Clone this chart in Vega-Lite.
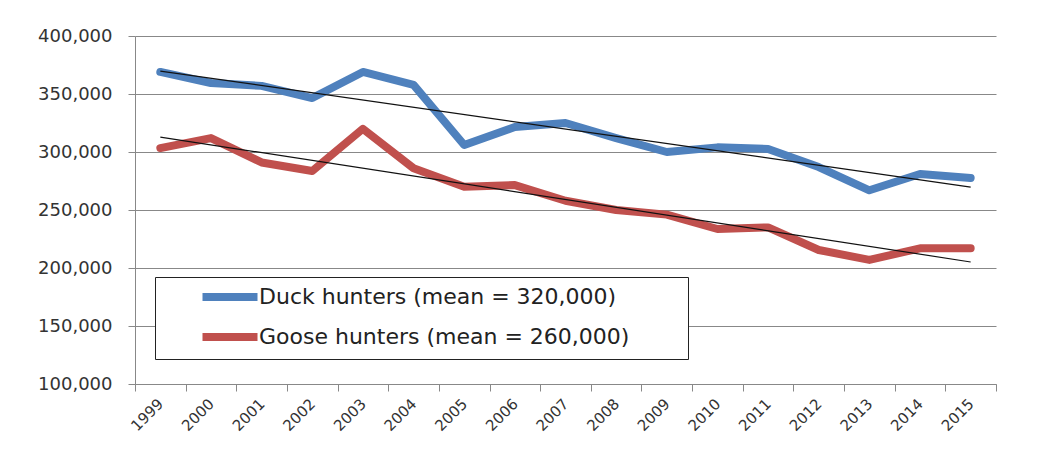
{
  "$schema": "https://vega.github.io/schema/vega-lite/v6.json",
  "autosize": {"type": "none"},
  "width": 861,
  "height": 348,
  "padding": {"left": 135, "top": 36, "right": 46, "bottom": 70},
  "background": "white",
  "config": {
    "font": "DejaVu Sans",
    "view": {"stroke": null},
    "axis": {"labelColor": "#333333", "labelFont": "DejaVu Sans"}
  },
  "datasets": {
    "hunters": [
      {"year": "1999", "series": "Duck hunters (mean = 320,000)", "hunters": 369000},
      {"year": "2000", "series": "Duck hunters (mean = 320,000)", "hunters": 359500},
      {"year": "2001", "series": "Duck hunters (mean = 320,000)", "hunters": 357000},
      {"year": "2002", "series": "Duck hunters (mean = 320,000)", "hunters": 346500},
      {"year": "2003", "series": "Duck hunters (mean = 320,000)", "hunters": 369000},
      {"year": "2004", "series": "Duck hunters (mean = 320,000)", "hunters": 357800},
      {"year": "2005", "series": "Duck hunters (mean = 320,000)", "hunters": 306000},
      {"year": "2006", "series": "Duck hunters (mean = 320,000)", "hunters": 321600},
      {"year": "2007", "series": "Duck hunters (mean = 320,000)", "hunters": 325000},
      {"year": "2008", "series": "Duck hunters (mean = 320,000)", "hunters": 312000},
      {"year": "2009", "series": "Duck hunters (mean = 320,000)", "hunters": 300000},
      {"year": "2010", "series": "Duck hunters (mean = 320,000)", "hunters": 304000},
      {"year": "2011", "series": "Duck hunters (mean = 320,000)", "hunters": 302600},
      {"year": "2012", "series": "Duck hunters (mean = 320,000)", "hunters": 287000},
      {"year": "2013", "series": "Duck hunters (mean = 320,000)", "hunters": 267000},
      {"year": "2014", "series": "Duck hunters (mean = 320,000)", "hunters": 281000},
      {"year": "2015", "series": "Duck hunters (mean = 320,000)", "hunters": 277600},
      {"year": "1999", "series": "Goose hunters (mean = 260,000)", "hunters": 303400},
      {"year": "2000", "series": "Goose hunters (mean = 260,000)", "hunters": 312000},
      {"year": "2001", "series": "Goose hunters (mean = 260,000)", "hunters": 291000},
      {"year": "2002", "series": "Goose hunters (mean = 260,000)", "hunters": 283600},
      {"year": "2003", "series": "Goose hunters (mean = 260,000)", "hunters": 320000},
      {"year": "2004", "series": "Goose hunters (mean = 260,000)", "hunters": 286000},
      {"year": "2005", "series": "Goose hunters (mean = 260,000)", "hunters": 270000},
      {"year": "2006", "series": "Goose hunters (mean = 260,000)", "hunters": 271500},
      {"year": "2007", "series": "Goose hunters (mean = 260,000)", "hunters": 258000},
      {"year": "2008", "series": "Goose hunters (mean = 260,000)", "hunters": 250000},
      {"year": "2009", "series": "Goose hunters (mean = 260,000)", "hunters": 246000},
      {"year": "2010", "series": "Goose hunters (mean = 260,000)", "hunters": 233600},
      {"year": "2011", "series": "Goose hunters (mean = 260,000)", "hunters": 235000},
      {"year": "2012", "series": "Goose hunters (mean = 260,000)", "hunters": 215500},
      {"year": "2013", "series": "Goose hunters (mean = 260,000)", "hunters": 207000},
      {"year": "2014", "series": "Goose hunters (mean = 260,000)", "hunters": 217000},
      {"year": "2015", "series": "Goose hunters (mean = 260,000)", "hunters": 217000}
    ],
    "trends": [
      {"year": "1999", "trend": "Duck trend", "hunters": 369800},
      {"year": "2015", "trend": "Duck trend", "hunters": 269800},
      {"year": "1999", "trend": "Goose trend", "hunters": 312900},
      {"year": "2015", "trend": "Goose trend", "hunters": 205200}
    ]
  },
  "encoding": {
    "x": {
      "field": "year",
      "type": "ordinal",
      "bandPosition": 0.5,
      "scale": {"type": "band", "paddingInner": 0, "paddingOuter": 0,
        "domain": ["1999","2000","2001","2002","2003","2004","2005","2006","2007","2008","2009","2010","2011","2012","2013","2014","2015"]},
      "axis": {
        "title": null,
        "tickBand": "extent",
        "labelAngle": -45,
        "labelAlign": "right",
        "labelBaseline": "middle",
        "labelFontSize": 15,
        "labelPadding": 10,
        "tickSize": 7,
        "tickColor": "#888888",
        "domainColor": "#888888",
        "grid": false
      }
    },
    "y": {
      "field": "hunters",
      "type": "quantitative",
      "scale": {"domain": [100000, 400000], "nice": false, "zero": false},
      "axis": {
        "title": null,
        "values": [100000, 150000, 200000, 250000, 300000, 350000, 400000],
        "format": ",d",
        "labelFontSize": 18,
        "labelPadding": 16,
        "tickSize": 7,
        "tickColor": "#888888",
        "domainColor": "#888888",
        "grid": true,
        "gridColor": "#888888",
        "gridWidth": 1
      }
    }
  },
  "layer": [
    {
      "data": {"name": "hunters"},
      "mark": {"type": "line", "strokeWidth": 8, "strokeCap": "round", "strokeJoin": "round"},
      "encoding": {
        "color": {
          "field": "series",
          "type": "nominal",
          "scale": {"range": ["#4F81BD", "#C0504D"]},
          "legend": {
            "title": "\u00a0",
            "titleOrient": "right",
            "titlePadding": 53,
            "titleFontSize": 4,
            "orient": "none",
            "legendX": 20,
            "legendY": 241,
            "direction": "vertical",
            "fillColor": "white",
            "strokeColor": "#222222",
            "padding": 6,
            "symbolType": "M-2.75,0H2.75",
            "symbolSize": 400,
            "symbolStrokeWidth": 8,
            "symbolOffset": 55,
            "labelFontSize": 22,
            "labelFont": "DejaVu Sans",
            "labelColor": "#222222",
            "labelOffset": 15,
            "labelLimit": 0,
            "rowPadding": 8
          }
        }
      }
    },
    {
      "data": {"name": "trends"},
      "mark": {"type": "line", "strokeWidth": 1.2, "color": "#111111"},
      "encoding": {"detail": {"field": "trend"}}
    }
  ]
}
